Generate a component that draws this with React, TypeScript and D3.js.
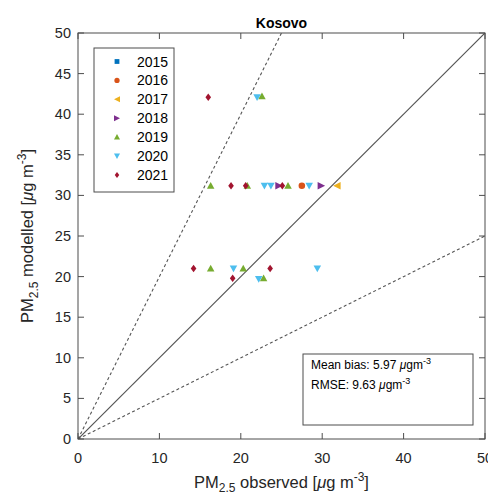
import * as d3 from 'd3';

// observed / modelled PM2.5 per year
const years = ['2015', '2016', '2017', '2018', '2019', '2020', '2021'];
const colors = ['#0072BD', '#D95319', '#EDB120', '#7E2F8E', '#77AC30', '#4DBEEE', '#A2142F'];
const shapes = ['square', 'circle', 'left', 'right', 'up', 'down', 'diamond'];

const obs2015: number[] = [];
const mod2015: number[] = [];
const obs2016 = [27.5];
const mod2016 = [31.2];
const obs2017 = [31.8];
const mod2017 = [31.2];
const obs2018 = [24.7, 29.9];
const mod2018 = [31.2, 31.2];
const obs2019 = [16.3, 20.8, 25.8, 22.6, 16.3, 20.3, 22.8];
const mod2019 = [31.2, 31.2, 31.2, 42.2, 21.0, 21.0, 19.8];
const obs2020 = [22.9, 23.7, 28.4, 22.0, 19.1, 29.4, 22.2];
const mod2020 = [31.2, 31.2, 31.2, 42.1, 21.0, 21.0, 19.7];
const obs2021 = [18.8, 20.6, 25.1, 16.0, 14.2, 23.6, 19.0];
const mod2021 = [31.2, 31.2, 31.2, 42.1, 21.0, 21.0, 19.8];

const observed = [obs2015, obs2016, obs2017, obs2018, obs2019, obs2020, obs2021];
const modelled = [mod2015, mod2016, mod2017, mod2018, mod2019, mod2020, mod2021];

const ticks = [0, 5, 10, 15, 20, 25, 30, 35, 40, 45, 50];
const xTicks = [0, 10, 20, 30, 40, 50];
const meanBias = '5.97';
const rmse = '9.63';

const W = 488;
const H = 496;
const margin = { top: 33, left: 78 };
const font = '"Liberation Sans", Arial, sans-serif';
const axisColor = '#4d4d4d';

const marker = (shape: string, s: number) => {
  const h = s / 2;
  switch (shape) {
    case 'square':
      return `M${-h * 0.8},${-h * 0.8}h${s * 0.8}v${s * 0.8}h${-s * 0.8}Z`;
    case 'circle':
      return d3.symbol(d3.symbolCircle, s * s * 0.6)() as string;
    case 'left':
      return `M${-h},0L${h},${-h}L${h},${h}Z`;
    case 'right':
      return `M${h},0L${-h},${-h}L${-h},${h}Z`;
    case 'up':
      return `M0,${-h}L${h},${h * 0.8}L${-h},${h * 0.8}Z`;
    case 'down':
      return `M0,${h}L${h},${-h * 0.8}L${-h},${-h * 0.8}Z`;
    default:
      return `M0,${-h}L${h * 0.75},0L0,${h}L${-h * 0.75},0Z`;
  }
};

export default function App() {
  const x = d3.scaleLinear().domain([0, 50]).range([margin.left, margin.left + 407]);
  const y = d3.scaleLinear().domain([0, 50]).range([margin.top + 406, margin.top]);
  const x0 = x(0), x1 = x(50), y0 = y(0), y1 = y(50);
  const tl = 6;

  return (
    <svg width={W} height={H} style={{ position: 'absolute', left: 0, top: 0, background: '#fff' }}
      fontFamily={font}>
      <defs>
        <clipPath id="plot">
          <rect x={x0} y={y1} width={x1 - x0} height={y0 - y1} />
        </clipPath>
      </defs>

      {/* reference lines: 1:1, 2:1 and 1:2 */}
      <g clipPath="url(#plot)">
        <line x1={x(0)} y1={y(0)} x2={x(50)} y2={y(50)} stroke="#555" strokeWidth={1.2} />
        <line x1={x(0)} y1={y(0)} x2={x(25)} y2={y(50)} stroke="#555" strokeWidth={1.1} strokeDasharray="3,2.5" />
        <line x1={x(0)} y1={y(0)} x2={x(50)} y2={y(25)} stroke="#555" strokeWidth={1.1} strokeDasharray="3,2.5" />
      </g>

      {/* points */}
      {observed.map((obs, i) =>
        obs.map((o, j) => (
          <path key={`${i}-${j}`} d={marker(shapes[i], 7.5)}
            transform={`translate(${x(o)},${y(modelled[i][j])})`} fill={colors[i]} />
        ))
      )}

      {/* axes box and ticks */}
      <rect x={x0} y={y1} width={x1 - x0} height={y0 - y1} fill="none" stroke={axisColor} strokeWidth={1} />
      {xTicks.map(t => (
        <g key={`xt${t}`}>
          <line x1={x(t)} x2={x(t)} y1={y0} y2={y0 - tl} stroke={axisColor} />
          <line x1={x(t)} x2={x(t)} y1={y1} y2={y1 + tl} stroke={axisColor} />
          <text x={x(t)} y={y0 + 24} textAnchor="middle" fontSize={14.5} fill="#262626">{t}</text>
        </g>
      ))}
      {ticks.map(t => (
        <g key={`yt${t}`}>
          <line x1={x0} x2={x0 + tl} y1={y(t)} y2={y(t)} stroke={axisColor} />
          <line x1={x1} x2={x1 - tl} y1={y(t)} y2={y(t)} stroke={axisColor} />
          <text x={x0 - 7} y={y(t) + 5} textAnchor="end" fontSize={14.5} fill="#262626">{t}</text>
        </g>
      ))}

      {/* title */}
      <text x={(x0 + x1) / 2} y={y1 - 5} textAnchor="middle" fontSize={14} fontWeight="bold" fill="#000">Kosovo</text>

      {/* axis labels */}
      <text x={(x0 + x1) / 2} y={488} textAnchor="middle" fontSize={16.5} fill="#262626">
        PM<tspan fontSize={12} dy={4}>2.5</tspan><tspan dy={-4}> observed [</tspan><tspan fontStyle="italic">μ</tspan>g m<tspan fontSize={12} dy={-7}>-3</tspan><tspan dy={7}>]</tspan>
      </text>
      <text transform={`translate(33,${(y0 + y1) / 2}) rotate(-90)`} textAnchor="middle" fontSize={16.5} fill="#262626">
        PM<tspan fontSize={12} dy={5}>2.5</tspan><tspan dy={-5}> modelled [</tspan><tspan fontStyle="italic">μ</tspan>g m<tspan fontSize={12} dy={-7}>-3</tspan><tspan dy={7}>]</tspan>
      </text>

      {/* legend */}
      <rect x={94} y={48} width={80} height={144} fill="#fff" stroke={axisColor} />
      {years.map((yr, i) => (
        <g key={yr} transform={`translate(0,${61.5 + i * 18.9})`}>
          <path d={marker(shapes[i], 6)} transform="translate(117,0)" fill={colors[i]} />
          <text x={137} y={5} fontSize={14} fill="#000">{yr}</text>
        </g>
      ))}

      {/* statistics box */}
      <rect x={303} y={354} width={170} height={71} fill="#fff" stroke={axisColor} />
      <text x={311} y={369} fontSize={12} fill="#000">
        Mean bias: {meanBias} <tspan fontStyle="italic">μ</tspan>gm<tspan fontSize={9} dy={-5}>-3</tspan>
      </text>
      <text x={311} y={389} fontSize={12} fill="#000">
        RMSE: {rmse} <tspan fontStyle="italic">μ</tspan>gm<tspan fontSize={9} dy={-5}>-3</tspan>
      </text>
    </svg>
  );
}
